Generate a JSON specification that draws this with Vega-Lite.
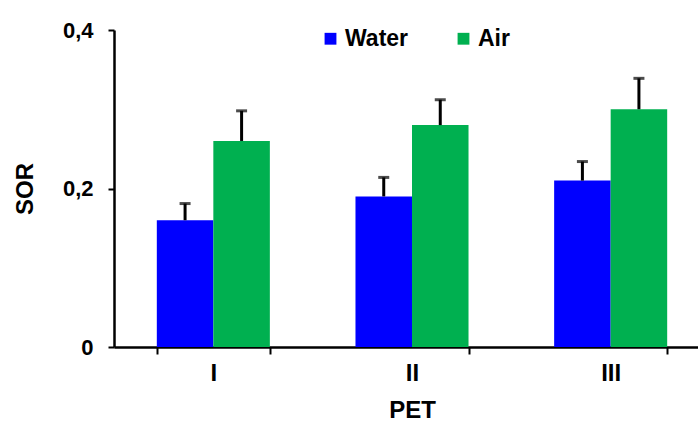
{
  "$schema": "https://vega.github.io/schema/vega-lite/v6.json",
  "width": 584,
  "height": 317,
  "autosize": {"type": "none"},
  "padding": {"left": 114, "top": 30, "right": 0, "bottom": 74},
  "background": "white",
  "config": {
    "view": {"stroke": null},
    "font": "Liberation Sans",
    "axis": {"labelFont": "Liberation Sans", "titleFont": "Liberation Sans", "labelFontWeight": "bold", "titleFontWeight": "bold", "domainColor": "black", "tickColor": "black", "labelColor": "black", "titleColor": "black", "grid": false},
    "legend": {"labelFont": "Liberation Sans", "labelFontWeight": "bold"}
  },
  "data": {
    "values": [
      {"pet": "I", "medium": "Water", "sor": 0.16, "hi": 0.181},
      {"pet": "I", "medium": "Air", "sor": 0.26, "hi": 0.298},
      {"pet": "II", "medium": "Water", "sor": 0.19, "hi": 0.214},
      {"pet": "II", "medium": "Air", "sor": 0.28, "hi": 0.312},
      {"pet": "III", "medium": "Water", "sor": 0.21, "hi": 0.234},
      {"pet": "III", "medium": "Air", "sor": 0.30, "hi": 0.339}
    ]
  },
  "encoding": {
    "x": {
      "field": "pet", "type": "nominal", "sort": ["I", "II", "III"],
      "scale": {"range": [0, 596], "paddingInner": 0.431, "paddingOuter": 0.2155},
      "axis": {"title": "PET", "labelAngle": 0, "labelFontSize": 24, "titleFontSize": 24, "tickBand": "extent", "tickSize": 7, "tickWidth": 2, "domainWidth": 2.5, "labelPadding": 7, "titlePadding": 13}
    },
    "xOffset": {"field": "medium", "type": "nominal", "sort": ["Water", "Air"]}
  },
  "layer": [
    {
      "mark": {"type": "bar"},
      "encoding": {
        "y": {
          "field": "sor", "type": "quantitative",
          "scale": {"domain": [0, 0.4], "nice": false},
          "axis": {"title": "SOR", "values": [0, 0.2, 0.4], "labelExpr": "datum.value == 0 ? '0' : replace(format(datum.value, '.1f'), '.', ',')", "labelFontSize": 22, "titleFontSize": 24, "tickSize": 6, "tickWidth": 2, "domainWidth": 2.5, "labelPadding": 15, "titlePadding": 25}
        },
        "color": {
          "field": "medium", "type": "nominal", "sort": ["Water", "Air"],
          "scale": {"domain": ["Water", "Air"], "range": ["#0000FF", "#00B050"]},
          "legend": {"title": null, "orient": "none", "direction": "horizontal", "legendX": 205, "legendY": -3, "symbolType": "square", "symbolSize": 140, "symbolStrokeWidth": 0, "symbolOpacity": 1, "labelFontSize": 23, "labelOffset": 3, "columnPadding": 43, "labelColor": "black"}
        }
      }
    },
    {
      "mark": {"type": "rule", "color": "black", "strokeWidth": 3},
      "encoding": {
        "y": {"field": "sor", "type": "quantitative"},
        "y2": {"field": "hi"}
      }
    },
    {
      "mark": {"type": "tick", "color": "black", "thickness": 3, "size": 11},
      "encoding": {
        "y": {"field": "hi", "type": "quantitative"}
      }
    }
  ]
}
